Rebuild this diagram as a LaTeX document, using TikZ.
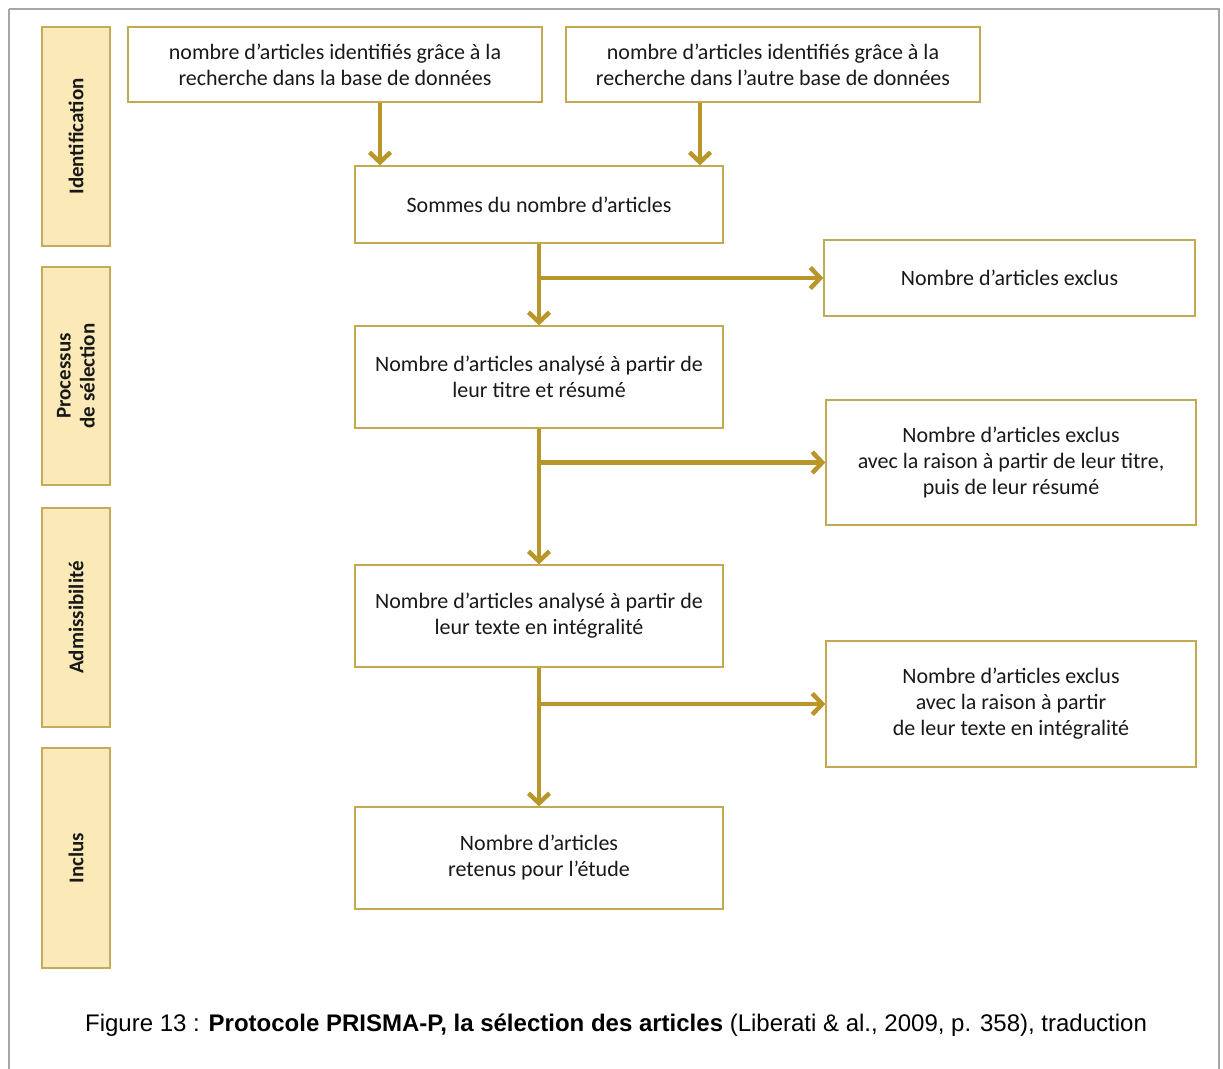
\documentclass[tikz,border=0pt]{standalone}
\usepackage{fontspec}
\setmainfont{Carlito}
\newfontfamily\capfont{Liberation Sans}
\usetikzlibrary{arrows.meta}
\definecolor{boxline}{HTML}{C2AA52}
\definecolor{sidefill}{HTML}{FCE9B8}
\definecolor{sideline}{HTML}{C4AC5E}
\definecolor{arrowcol}{HTML}{B8962A}
\definecolor{framecol}{HTML}{A6A6A6}
\begin{document}
\begin{tikzpicture}[x=1pt,y=1pt,
  stepbox/.style={draw=boxline, line width=1.3pt, fill=white, align=center, inner sep=0pt,
    font=\fontsize{22pt}{26pt}\selectfont, text=black!90},
  sidebox/.style={draw=sideline, line width=1.3pt, fill=sidefill, minimum width=68pt, inner sep=0pt},
  sidetext/.style={rotate=90, align=center, font=\fontsize{21pt}{24pt}\selectfont\bfseries, text=black!90},
  flow/.style={draw=arrowcol, line width=4.5pt, -{Straight Barb[length=10pt,width=21pt]}},
  flowline/.style={draw=arrowcol, line width=4.5pt}]
\useasboundingbox (0,0) rectangle (1223,-1068);
\fill[white] (0,0) rectangle (1223,-1068);
\draw[framecol, line width=2pt] (9,-9) -- (9,-1080);
\draw[framecol, line width=2pt] (9,-9) -- (1219,-9) -- (1219,-1080);

% side labels
\node[sidebox, minimum height=219pt] (s1) at (76,-136.5) {};
\node[sidetext] (t1) at (s1.center) {Identification};
\node[sidebox, minimum height=218pt] (s2) at (76,-376) {};
\node[sidetext] (t2) at (s2.center) {Processus\\de sélection};
\node[sidebox, minimum height=219pt] (s3) at (76,-617.5) {};
\node[sidetext] (t3) at (s3.center) {Admissibilité};
\node[sidebox, minimum height=220pt] (s4) at (76,-858) {};
\node[sidetext] (t4) at (s4.center) {Inclus};

% main boxes
\node[stepbox, minimum width=414pt, minimum height=75pt] (b1) at (335,-64.5)
  {nombre d’articles identifiés grâce à la\\recherche dans la base de données};
\node[stepbox, minimum width=414pt, minimum height=75pt] (b2) at (773,-64.5)
  {nombre d’articles identifiés grâce à la\\recherche dans l’autre base de données};
\node[stepbox, minimum width=368pt, minimum height=77pt] (b3) at (539,-204.5)
  {Sommes du nombre d’articles};
\node[stepbox, minimum width=371pt, minimum height=76pt] (e1) at (1009.5,-278)
  {Nombre d’articles exclus};
\node[stepbox, minimum width=368pt, minimum height=102pt] (b4) at (539,-377)
  {Nombre d’articles analysé à partir de\\leur titre et résumé};
\node[stepbox, minimum width=370pt, minimum height=125pt] (e2) at (1011,-462.5)
  {Nombre d’articles exclus\\avec la raison à partir de leur titre,\\puis de leur résumé};
\node[stepbox, minimum width=368pt, minimum height=102pt] (b5) at (539,-616)
  {Nombre d’articles analysé à partir de\\leur texte en intégralité};
\node[stepbox, minimum width=370pt, minimum height=126pt] (e3) at (1011,-704)
  {Nombre d’articles exclus\\avec la raison à partir\\de leur texte en intégralité};
\node[stepbox, minimum width=368pt, minimum height=102pt] (b6) at (539,-858)
  {Nombre d’articles\\retenus pour l’étude};

% connectors
\draw[flow] (b1.south -| 380,0) -- (b3.north -| 380,0);
\draw[flow] (b2.south -| 700,0) -- (b3.north -| 700,0);

\coordinate (j1) at (b3.south |- e1.west);
\coordinate (j2) at (b4.south |- e2.west);
\coordinate (j3) at (b5.south |- e3.west);
\draw[flow] (b3.south) -- (b4.north);
\draw[flow] (j1) -- (e1.west);
\draw[flow] (b4.south) -- (b5.north);
\draw[flow] (j2) -- (e2.west);
\draw[flow] (b5.south) -- (b6.north);
\draw[flow] (j3) -- (e3.west);

% caption
\node[font=\capfont\fontsize{24pt}{28pt}\selectfont, text=black] (cap) at (616,-1025)
  {Figure 13 : \textbf{Protocole PRISMA-P, la sélection des articles} (Liberati \& al., 2009, p. 358), traduction};
\end{tikzpicture}
\end{document}
